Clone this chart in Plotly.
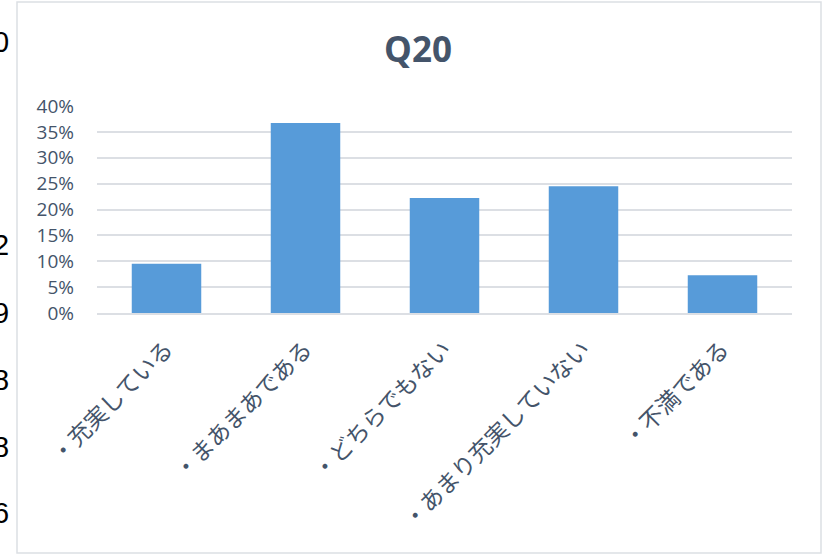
import plotly.graph_objects as go

categories = ["・充実している", "・まあまあである", "・どちらでもない", "・あまり充実していない", "・不満である"]
shares = [0.095, 0.367, 0.222, 0.245, 0.073]
# digits from the sheet cells that peek out left of the chart
side_digits = ["0", "2", "9", "8", "8", "6"]
side_digit_y = [42, 245, 313, 380, 447, 513]

W, H = 836, 556
L, R, T, B = 97, 44, 106, 243
PW, PH = W - L - R, H - T - B


def px_x(x):
    return (x - L) / PW


def px_y(y):
    return (H - B - y) / PH


fig = go.Figure(go.Bar(
    x=categories,
    y=shares,
    width=0.5,
    marker=dict(color="#579bd9", line=dict(width=0)),
))

annotations = [
    dict(text=d, x=px_x(11), y=px_y(yy), xref="paper", yref="paper",
         xanchor="right", yanchor="middle", showarrow=False,
         font=dict(family="Liberation Sans", size=29, color="#000000"))
    for d, yy in zip(side_digits, side_digit_y)
]

fig.update_layout(
    width=W, height=H,
    margin=dict(l=L, r=R, t=T, b=B),
    paper_bgcolor="white", plot_bgcolor="white",
    title=dict(text="<b>Q20</b>", x=0.5, xref="container", xanchor="center",
               y=1 - 50 / H, yanchor="middle",
               font=dict(family="Open Sans", size=35, color="#44546a")),
    showlegend=False,
    annotations=annotations,
    shapes=[dict(type="rect", xref="paper", yref="paper",
                 x0=px_x(17), x1=px_x(821), y0=px_y(553), y1=px_y(2),
                 line=dict(color="#dcdfe4", width=1.5), fillcolor="rgba(0,0,0,0)",
                 layer="below")],
)

fig.update_yaxes(
    range=[0, 0.4], dtick=0.05, tickformat=".0%",
    showgrid=True, gridcolor="#dcdfe4", gridwidth=1.5,
    zeroline=False, showline=False, ticks="",
    ticklabelstandoff=22,
    tickfont=dict(family="Open Sans", size=19, color="#44546a"),
)
fig.update_xaxes(
    tickangle=-45, showgrid=False, ticks="",
    showline=True, linecolor="#dcdfe4", linewidth=1.5,
    ticklabelstandoff=12,
    tickfont=dict(family="Noto Sans CJK JP", size=23, color="#44546a"),
)

fig.write_html("out.html", config={"displayModeBar": False},
               post_script="document.body.style.margin='0';")
